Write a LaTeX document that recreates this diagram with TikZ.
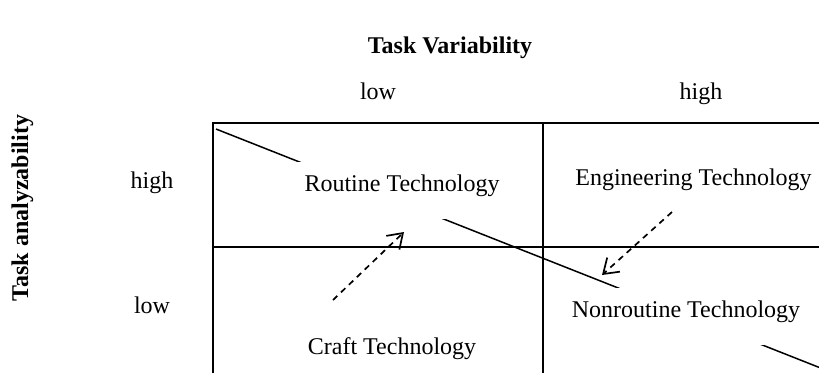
\documentclass[tikz,border=0pt]{standalone}
\usepackage{fontspec}
\setmainfont{Liberation Serif}
\usetikzlibrary{arrows.meta}
\begin{document}
\begin{tikzpicture}[x=0.5pt,y=-0.5pt,
  lbl/.style={font=\fontsize{12}{14}\selectfont, inner sep=0pt, anchor=base},
  ttl/.style={font=\fontsize{12}{14}\selectfont\bfseries, inner sep=0pt, anchor=base},
  tech/.style={font=\fontsize{12}{14}\selectfont, fill=white, inner xsep=5pt, inner ysep=0pt,
               text height=14.5pt, text depth=14pt, anchor=base},
  gridline/.style={line width=1pt},
  diag/.style={line width=0.75pt},
  shiftarrow/.style={line width=0.85pt, dash pattern=on 3pt off 2.5pt,
                     -{Straight Barb[length=7pt,width=9.5pt]}}
]
\useasboundingbox (0,0) rectangle (819,372);
\clip (0,0) rectangle (819,372);

% titles and axis labels
\node[ttl] (title) at (450,53) {Task Variability};
\node[ttl, rotate=90] (rowtitle) at (28,208) {Task analyzability};
\node[lbl] (collow) at (378,99) {low};
\node[lbl] (colhigh) at (701,99) {high};
\node[lbl] (rowhigh) at (152,188) {high};
\node[lbl] (rowlow) at (152,313) {low};

% diagonal line (partly hidden behind the text boxes)
\coordinate (d0) at (216,129);
\coordinate (d1) at (832,372.5);
\draw[diag] (d0) -- (d1);

% technology boxes
\node[tech] (routine) at (402,191) {Routine Technology};
\node[tech] (engineering) at (693.5,185) {Engineering Technology};
\node[tech] (nonroutine) at (686,317) {Nonroutine Technology};
\node[tech] (craft) at (392,354) {Craft Technology};

% grid
\coordinate (g0) at (213,123);
\coordinate (g1) at (900,400);
\draw[gridline] (g0) rectangle (g1);
\coordinate (v0) at (543,123);
\coordinate (v1) at (543,400);
\draw[gridline] (v0) -- (v1);
\coordinate (h0) at (213,247);
\coordinate (h1) at (900,247);
\draw[gridline] (h0) -- (h1);

% dashed arrows
\coordinate (a0) at (333,300);
\coordinate (a1) at (404,232);
\draw[shiftarrow] (a0) -- (a1);
\coordinate (b0) at (672,212);
\coordinate (b1) at (602,275);
\draw[shiftarrow] (b0) -- (b1);
\end{tikzpicture}
\end{document}
